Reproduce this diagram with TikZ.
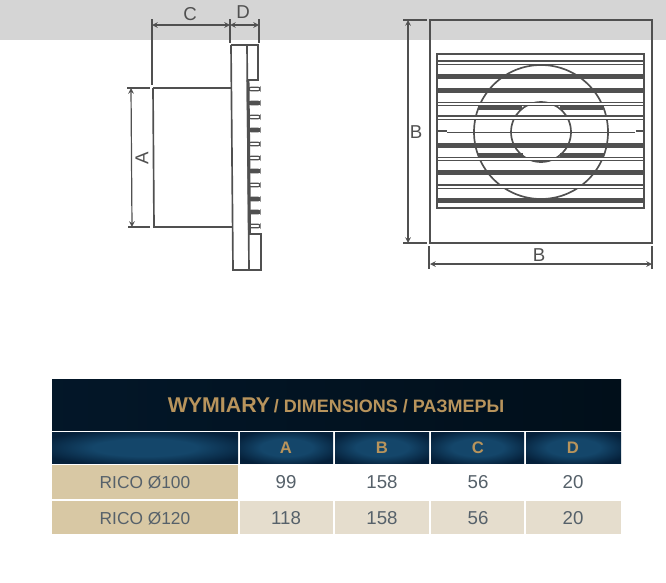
\documentclass[tikz,border=0pt]{standalone}
\usepackage{fontspec}
\setmainfont{Liberation Sans}
\usetikzlibrary{arrows,calc}
\definecolor{band}{HTML}{D5D5D5}
\definecolor{ink}{HTML}{505050}
\definecolor{navy}{HTML}{010F1A}
\definecolor{steel}{HTML}{14466A}
\definecolor{steeldark}{HTML}{05203A}
\definecolor{gold}{HTML}{B8945C}
\definecolor{sand}{HTML}{D8C8A4}
\definecolor{cream}{HTML}{E5DDCD}
\definecolor{slate}{HTML}{56616A}
\pgfdeclareradialshading{cellglow}{\pgfpoint{0bp}{0bp}}{color(0bp)=(steel); color(14bp)=(steel); color(30bp)=(steeldark); color(50bp)=(steeldark)}
\tikzset{
  part/.style={draw=ink,line width=1.25pt},
  extline/.style={draw=ink,line width=.9pt},
  dimline/.style={draw=ink,line width=.9pt,<->,>=stealth},
  dimlabel/.style={text=ink,font=\fontsize{14}{14}\selectfont,inner sep=0},
  headcell/.style={shading=cellglow},
  headlabel/.style={text=gold,font=\bfseries\fontsize{12.5}{14}\selectfont,inner sep=0},
  rowlabel/.style={text=slate,font=\fontsize{13}{14}\selectfont,inner sep=0},
  val/.style={text=slate,font=\fontsize{14}{14}\selectfont,inner sep=0}
}

\begin{document}
\begin{tikzpicture}[x=.75pt,y=-.75pt]

\useasboundingbox (0,0) rectangle (666,582);
\fill[white] (0,0) rectangle (666,582);
\fill[band] (0,0) rectangle (666,40);

% Side view, body and flange
\draw[part] (153,88) -- (231,88);
\draw[part] (153,88) -- (154,227) -- (232,227);
\draw[part] (231,45) -- (258,45) -- (258,80) -- (248,80);
\draw[part] (231,45) -- (233,270) -- (261,270) -- (261,234) -- (249,234);
\draw[part] (247,45) -- (249,270);

% Side view, fins
\foreach \ypos/\finfill in {89/white,103/ink,117/white,130/ink,144/white,158/white,171/ink,185/white,199/ink,212/ink,226/white}{
  \draw[draw=ink,line width=.9pt,fill=\finfill,rounded corners=1.5pt] (249,\ypos-1.8) rectangle (260,\ypos+1.8);
}
\draw[ink,line width=2.2pt] (248,80) -- (249.5,234);

% Side view, dimensions
\coordinate (c-left) at (152,25);
\coordinate (c-right) at (230,25);
\coordinate (d-right) at (259,25);
\coordinate (a-top) at (131,88);
\coordinate (a-bottom) at (132,227);
\draw[extline] (152,19) -- (152,85);
\draw[extline] (230,19) -- (230,43);
\draw[extline] (259,19) -- (259,43);
\draw[extline] (127,88) -- (150,88);
\draw[extline] (128,227) -- (150,227);
\draw[dimline] (c-left) -- (c-right);
\draw[dimline] (c-right) -- (d-right);
\draw[dimline] (a-top) -- (a-bottom);
\node[dimlabel] (label-c) at (190,14) {C};
\node[dimlabel] (label-d) at (243,12) {D};
\node[dimlabel,rotate=90] (label-a) at (142,158) {A};

% Front view
\draw[part] (430,20) rectangle (652,243);
\draw[part] (437,54) rectangle (644,208);
\draw[part] (541,132) circle (67);
\draw[part] (541,132) circle (30);
\fill[ink] (478,105) rectangle (522,110);
\fill[ink] (560,105) rectangle (603,110);
\fill[ink] (478,153) rectangle (523,158);
\fill[ink] (560,153) rectangle (604,158);

% Front view, slats
\foreach \ypos/\slatfill in {62.7/white,76.7/ink,90.3/ink,104/white,117.7/white,145.3/ink,159/white,172.7/ink,186.7/white,200.3/ink}{
  \draw[draw=ink,line width=.8pt,fill=\slatfill] (437,\ypos-1.7) rectangle (644,\ypos+1.7);
}
\draw[ink,line width=.9pt] (447,132.5) -- (635,132.5);
\draw[ink,line width=1.3pt] (438,131) -- (447,131);
\draw[ink,line width=1.3pt] (636,131) -- (644,131);

% Front view, dimensions
\coordinate (b-top) at (408,20);
\coordinate (b-bottom) at (408,243);
\coordinate (b-left) at (430,264);
\coordinate (b-right) at (652,264);
\draw[extline] (403,20) -- (427,20);
\draw[extline] (403,243) -- (427,243);
\draw[extline] (429,246) -- (429,269);
\draw[extline] (652,246) -- (652,269);
\draw[dimline] (b-top) -- (b-bottom);
\draw[dimline] (b-left) -- (b-right);
\node[dimlabel] (label-bv) at (416,132) {B};
\node[dimlabel] (label-bh) at (539,255) {B};

% Table backgrounds
\shade[left color=steeldark!45!navy,right color=navy] (52,379) rectangle (621,430);
\shade[headcell] (52,432) rectangle (238,463);
\shade[headcell] (240,432) rectangle (333,463);
\shade[headcell] (335,432) rectangle (429,463);
\shade[headcell] (431,432) rectangle (524,463);
\shade[headcell] (526,432) rectangle (621,463);
\fill[sand] (52,465) rectangle (238,499);
\fill[sand] (52,501) rectangle (238,534);
\fill[cream] (240,501) rectangle (333,534);
\fill[cream] (335,501) rectangle (429,534);
\fill[cream] (431,501) rectangle (524,534);
\fill[cream] (526,501) rectangle (621,534);

% Table text
\node[text=gold,inner sep=0,font=\bfseries] (title) at (336,405) {{\fontsize{16}{16}\selectfont WYMIARY} {\fontsize{13.5}{16}\selectfont / DIMENSIONS / РАЗМЕРЫ}};
\node[headlabel] (head-a) at (286,448) {A};
\node[headlabel] (head-b) at (382,448) {B};
\node[headlabel] (head-c) at (478,448) {C};
\node[headlabel] (head-d) at (573,448) {D};
\node[rowlabel] (rico-100) at (145,483) {RICO Ø100};
\node[rowlabel] (rico-120) at (145,519) {RICO Ø120};
\node[val] (a-100) at (286,482) {99};
\node[val] (b-100) at (382,482) {158};
\node[val] (c-100) at (478,482) {56};
\node[val] (d-100) at (573,482) {20};
\node[val] (a-120) at (286,518) {118};
\node[val] (b-120) at (382,518) {158};
\node[val] (c-120) at (478,518) {56};
\node[val] (d-120) at (573,518) {20};

\end{tikzpicture}
\end{document}
